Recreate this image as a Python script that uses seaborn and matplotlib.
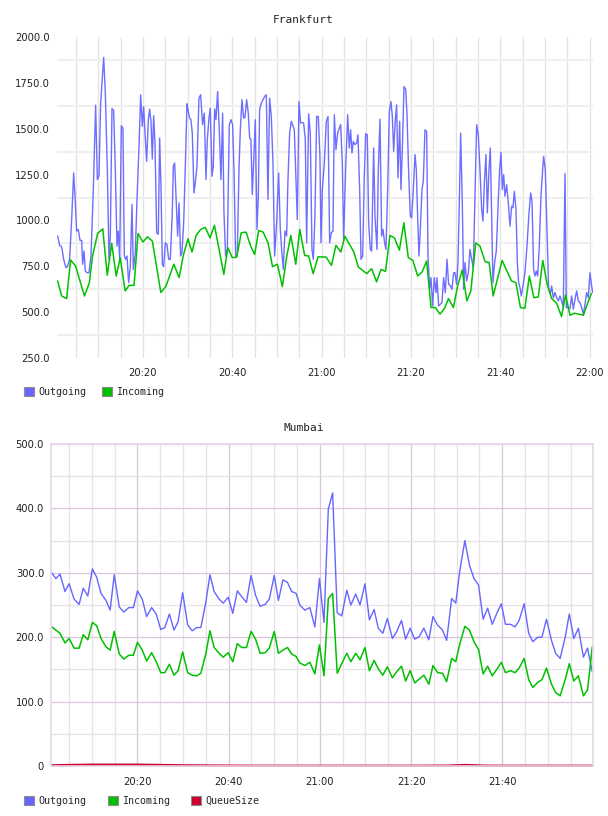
import pandas as pd
import numpy as np
import matplotlib
matplotlib.use("Agg")
import matplotlib.pyplot as plt
from matplotlib.ticker import MultipleLocator, FuncFormatter, FixedLocator
from matplotlib.patches import Patch
import seaborn as sns

# ---- data: minutes after 20:00 and values ----
fra_out_min = [0.90, 1.34, 1.79, 2.24, 2.76, 3.14, 3.58, 4.03, 4.48, 4.78, 5.15, 5.52, 5.90, 6.27, 6.49,
               6.79, 7.09, 7.46, 7.91, 8.36, 8.88, 9.40, 9.78, 10.15, 10.52, 10.82, 11.20, 11.57, 12.02,
               12.39, 12.69, 13.06, 13.43, 13.81, 14.18, 14.48, 14.78, 15.15, 15.52, 15.82, 16.12, 16.42,
               16.79, 17.17, 17.54, 17.84, 18.28, 18.66, 19.11, 19.48, 19.85, 20.15, 20.45, 20.82, 21.20,
               21.49, 21.79, 22.09, 22.39, 22.69, 23.06, 23.43, 23.73, 24.03, 24.33, 24.63, 25.00, 25.37,
               25.75, 26.12, 26.57, 26.79, 27.09, 27.46, 27.76, 28.06, 28.43, 28.73, 29.11, 29.48, 29.85,
               30.07, 30.44, 30.74, 31.04, 31.41, 31.71, 32.08, 32.53, 32.91, 33.35, 33.73, 34.10, 34.40,
               34.77, 35.07, 35.44, 35.74, 36.04, 36.34, 36.71, 37.08, 37.46, 37.83, 38.13, 38.50, 38.88,
               39.32, 39.70, 40.07, 40.37, 40.74, 41.11, 41.49, 41.79, 42.16, 42.53, 42.83, 43.20, 43.58,
               43.88, 44.17, 44.47, 44.77, 45.14, 45.52, 45.82, 46.11, 46.49, 46.86, 47.23, 47.61, 47.98,
               48.35, 48.73, 49.10, 49.47, 49.92, 50.37, 50.74, 51.04, 51.41, 51.79, 52.16, 52.46, 52.83,
               53.20, 53.50, 53.88, 54.25, 54.55, 54.92, 55.29, 55.67, 55.97, 56.34, 56.64, 57.09, 57.46,
               57.83, 58.13, 58.50, 58.88, 59.25, 59.62,
               59.85, 60.15, 60.60, 61.04, 61.42, 61.79, 62.16, 62.54, 62.84, 63.21, 63.58, 63.95, 64.25,
               64.63, 64.92, 65.30, 65.82, 66.19, 66.49, 66.79, 67.09, 67.46, 67.84, 68.13, 68.51, 68.81,
               69.18, 69.55, 69.85, 70.22, 70.52, 70.89, 71.19, 71.64, 71.94, 72.39, 72.69, 73.06, 73.43,
               73.73, 74.10, 74.40, 74.78, 75.15, 75.52, 75.82, 76.12, 76.49, 76.79, 77.09, 77.46, 77.76,
               78.06, 78.43, 78.81, 79.10, 79.48, 79.85, 80.15, 80.52, 80.90, 81.19, 81.49, 81.79, 82.09,
               82.46, 82.76, 83.13, 83.51, 83.81, 84.18, 84.48, 84.85, 85.22, 85.60, 85.82, 86.19, 86.57,
               86.94, 87.31, 87.69, 88.06, 88.43, 88.81, 89.18, 89.55,
               89.85, 90.22, 90.52, 90.82, 91.12, 91.49, 91.79, 92.09, 92.46, 92.84, 93.21, 93.58, 93.95,
               94.33, 94.70, 95.07, 95.45, 95.82, 96.12, 96.42, 96.79, 97.09, 97.46, 97.76, 98.06, 98.36,
               98.73, 99.10, 99.55, 99.85, 100.15, 100.45, 100.75, 101.04, 101.42, 101.79, 102.16, 102.54,
               102.84, 103.13, 103.51, 103.81, 104.10, 104.40, 104.70, 105.07, 105.52, 105.97, 106.42,
               106.79, 107.09, 107.46, 107.76, 108.06, 108.36, 108.73, 109.10, 109.48, 109.70, 110.07,
               110.45, 110.82, 111.19, 111.49, 111.87, 112.24, 112.61, 112.99, 113.36, 113.73, 114.10,
               114.48, 114.78, 115.22, 115.60, 115.97, 116.34, 116.72, 117.09, 117.46, 117.84, 118.21,
               118.58, 118.96, 119.33, 119.70, 120.07, 120.45, 120.67]
fra_out = [915, 864, 857, 788, 742, 751, 788, 1005, 1259, 1132, 942, 951, 891, 891, 761,
           833, 724, 715, 715, 806, 1168, 1628, 1223, 1241, 1639, 1748, 1889, 1694, 1277,
           788, 915, 1609, 1600, 1277, 860, 942, 788, 1516, 1503, 806, 788, 806,
           661, 751, 1087, 733, 824, 1114, 1404, 1685, 1513, 1621, 1476, 1322, 1549,
           1607, 1540, 1335, 1571, 1422, 933, 924, 1449, 1186, 761, 748, 878, 869,
           788, 788, 1050, 1295, 1313, 1096, 915, 1096, 806, 824, 987, 1295, 1636,
           1603, 1558, 1549, 1476, 1150, 1204, 1295, 1667, 1685, 1522, 1585, 1223, 1440,
           1558, 1612, 1241, 1295, 1609, 1549, 1703, 1494, 1223, 1585, 1041, 806, 842,
           1522, 1549, 1522, 1277, 806, 806, 1277, 1494, 1658, 1558, 1562, 1658, 1585,
           1449, 1440, 1141, 1313, 1549, 951, 1132, 1603, 1639, 1658, 1676, 1685, 1114,
           1667, 1567, 1313, 806, 987, 1259, 951, 842, 733, 942, 915, 1223, 1476,
           1540, 1522, 1494, 1223, 1005, 1648, 1531, 1534, 1531, 1440, 878, 1581, 1476,
           842, 788, 1023, 1567, 1567, 1349,
           878, 1168, 1313, 1540, 1567, 878, 933, 942, 1576, 1386, 1476, 1503, 1522,
           1313, 896, 1223, 1576, 1395, 1494, 1368, 1431, 1413, 1422, 1467, 1168, 788,
           806, 1241, 1473, 1467, 987, 842, 833, 1395, 1023, 842, 1277, 1552, 915,
           951, 878, 842, 1168, 1594, 1648, 1567, 1377, 1549, 1630, 1232, 1540, 1168,
           1386, 1730, 1715, 1585, 1259, 1023, 1014, 1168, 1359, 1277, 1023, 806, 951,
           1168, 1214, 1494, 1485, 806, 625, 688, 534, 688, 607, 688, 534, 543,
           552, 688, 607, 788, 652, 643, 625, 715,
           715, 652, 770, 1096, 1476, 1096, 625, 770, 670, 715, 842, 788, 742,
           1132, 1522, 1467, 1277, 1060, 996, 1204, 1359, 1041, 1277, 1395, 1041, 661,
           770, 833, 1114, 1277, 1371, 1168, 1250, 1132, 1195, 1096, 969, 1078,
           1069, 1159, 1060, 770, 661, 634, 588, 643, 715, 860, 1041,
           1150, 1105, 733, 697, 724, 697, 860, 1132, 1277, 1349, 1277,
           951, 625, 597, 643, 579, 607, 579, 561, 588, 561, 525,
           1255, 525, 525, 520, 588, 516, 570, 616, 561, 552, 525,
           489, 543, 607, 579, 715, 643, 607]

fra_in_min = [0.9, 1.8, 2.9, 3.8, 4.9, 6.9, 8.0, 8.7, 9.85, 11.0, 12.0, 13.0, 14.0, 14.9, 16.0, 16.9,
              18.0, 18.9, 20.0, 21.0, 22.1, 24.0, 25.1, 26.9, 28.1, 29.0,
              30.07, 30.97, 31.9, 32.9, 33.95, 35.0, 36.0, 36.9, 38.1, 39.0, 40.0, 41.0, 42.0, 43.1,
              44.1, 45.0, 45.9, 46.9, 48.0, 49.0, 50.1, 51.2, 52.2, 53.1, 54.2, 55.1, 56.2, 57.1,
              58.1, 59.2, 61.0, 62.2, 63.2, 64.3, 65.2, 67.2, 68.2, 70.1, 71.2, 72.3, 73.3, 74.3,
              75.3, 76.3, 77.4, 78.4, 79.4, 80.4, 81.5, 82.5, 83.5, 84.5, 85.45, 86.5, 87.5, 88.4,
              89.5, 90.5, 91.5, 92.5, 93.4, 94.5, 95.45, 96.6, 97.5, 98.4, 100.4, 102.5, 103.5, 104.5,
              105.5, 106.5, 107.5, 108.5, 109.5, 110.5, 111.5, 112.6, 113.7, 114.6, 115.6, 116.6,
              117.6, 118.6, 119.6, 120.4]
fra_in = [670, 588, 574, 784, 752, 588, 661, 806, 929, 954, 701, 875, 697, 797, 616, 646,
          646, 929, 882, 911, 887, 607, 639, 761, 688, 806,
          900, 828, 918, 951, 962, 905, 973, 860, 706, 851, 797, 800, 933, 936,
          860, 815, 945, 936, 878, 748, 761, 639, 806, 918, 761, 951, 809, 806,
          710, 802, 800, 755, 864, 828, 914, 828, 746, 710, 737, 665, 733, 722,
          918, 904, 838, 987, 797, 782, 697, 719, 779, 525, 525, 489, 520, 574,
          525, 650, 730, 561, 616, 878, 860, 775, 770, 588, 782, 670, 661, 525,
          521, 697, 579, 583, 782, 652, 574, 549, 476, 594, 483, 494,
          489, 483, 552, 603]

mum_min = [1.2, 2.1, 3.0, 4.1, 5.0, 6.1, 7.2, 8.1, 9.1, 10.1, 11.05, 12.0, 13.1, 14.0, 14.9, 16.0,
           17.0, 18.1, 19.1, 20.0, 21.05, 22.0, 23.1, 24.1, 25.1, 26.0, 27.0, 28.0, 28.9, 29.9, 31.0,
           32.0, 33.0, 33.9, 35.0, 35.9, 36.8, 37.9, 38.8, 39.9, 40.9, 41.9, 42.85, 43.9, 44.9, 45.9,
           46.9, 48.0, 48.9, 50.0, 50.9, 51.9, 52.9, 53.8, 54.8, 55.6,
           56.7, 57.8, 58.9, 59.9, 60.9, 61.85, 62.8, 63.8, 64.8, 65.9, 66.8, 67.85, 68.8, 69.9,
           70.85, 71.9, 72.8, 73.8, 74.8, 75.9, 76.8, 77.9, 78.8, 79.8, 80.8, 81.8, 82.8, 83.9,
           84.8, 85.8, 86.9, 87.8, 88.9, 89.8, 90.7, 91.8, 92.8, 93.8, 94.8, 95.8, 96.8, 97.8,
           98.8, 99.8, 100.7, 101.8, 102.8, 103.7, 104.8, 105.8, 106.7, 107.8, 108.7, 109.7,
           110.8, 111.7, 112.7, 113.8, 114.7, 115.7, 116.7, 117.8, 118.7, 119.75]
mum_out = [300, 291, 298, 271, 283, 259, 251, 276, 264, 306, 293, 268, 257, 242, 297, 247,
           239, 246, 246, 272, 259, 232, 246, 236, 212, 215, 236, 211, 224, 269, 219,
           210, 215, 215, 255, 297, 271, 259, 253, 262, 237, 272, 263, 254, 296, 265,
           248, 251, 259, 296, 257, 289, 285, 271, 268, 250,
           242, 246, 216, 291, 223, 399, 424, 238, 233, 273, 250, 267, 250, 283,
           227, 243, 214, 206, 229, 198, 208, 226, 197, 214, 197, 201, 214, 196,
           232, 219, 211, 195, 260, 253, 304, 350, 312, 291, 281, 228, 245, 220,
           237, 252, 220, 220, 216, 226, 252, 206, 193, 200, 200, 228,
           195, 175, 167, 200, 236, 198, 214, 169, 183, 146]
mum_in = [216, 211, 206, 191, 198, 183, 183, 204, 196, 223, 218, 198, 185, 180, 209, 174,
          166, 172, 172, 192, 180, 163, 176, 162, 145, 145, 158, 141, 148, 177, 145,
          141, 140, 144, 175, 210, 184, 175, 169, 176, 162, 190, 184, 184, 209, 197,
          175, 176, 183, 209, 175, 180, 184, 174, 170, 160,
          156, 161, 143, 188, 140, 260, 268, 144, 159, 175, 162, 175, 165, 184,
          148, 164, 151, 141, 154, 137, 146, 155, 132, 148, 129, 135, 141, 127,
          156, 145, 144, 131, 167, 162, 190, 217, 211, 193, 181, 143, 155, 140,
          150, 161, 145, 148, 145, 152, 167, 134, 122, 130, 134, 152,
          127, 114, 109, 134, 159, 132, 140, 109, 118, 185]
queue_min = [1.2, 5, 10, 15, 20, 25, 30, 40, 50, 60, 70, 80, 88, 92, 96, 100, 110, 119.75]
queue = [1.0, 1.5, 2.0, 2.0, 2.0, 1.5, 1.0, 0.5, 0.3, 0.3, 0.3, 0.3, 0.5, 1.5, 0.5, 0.3, 0.3, 0.3]

BLUE = "#6666ff"
GREEN = "#00c000"
RED = "#cc0033"

sns.set_style("white")
plt.rcParams["font.family"] = ["DejaVu Sans"]

fig = plt.figure(figsize=(6.08, 8.16), dpi=100)
ax1 = fig.add_axes([57 / 608, 1 - 358 / 816, 536 / 608, 321 / 816])
ax2 = fig.add_axes([51 / 608, 1 - 766 / 816, 542 / 608, 322 / 816])


def hhmm(m, pos=None):
    m = int(round(m))
    return f"{20 + m // 60}:{m % 60:02d}"


# ---- Frankfurt ----
df_out = pd.DataFrame({"t": fra_out_min, "v": fra_out})
df_in = pd.DataFrame({"t": fra_in_min, "v": fra_in})
sns.lineplot(data=df_out, x="t", y="v", ax=ax1, color=BLUE, lw=1.0, alpha=0.95)
sns.lineplot(data=df_in, x="t", y="v", ax=ax1, color=GREEN, lw=1.1)
ax1.set_xlim(0.75, 120.75)
ax1.set_ylim(250, 2000)
ax1.xaxis.set_major_locator(MultipleLocator(20))
ax1.xaxis.set_minor_locator(MultipleLocator(5))
ax1.xaxis.set_major_formatter(FuncFormatter(hhmm))
ax1.yaxis.set_major_locator(MultipleLocator(250))
ax1.yaxis.set_minor_locator(FixedLocator(np.arange(375, 2000, 250)))
ax1.yaxis.set_major_formatter(FuncFormatter(lambda v, p: f"{v:.1f}"))
ax1.grid(False)
ax1.xaxis.grid(True, which="both", color="#e2e2e2", lw=0.9)
ax1.yaxis.grid(True, which="minor", color="#efefef", lw=1.6)
ax1.set_axisbelow(True)
for s in ax1.spines.values():
    s.set_visible(False)

# ---- Mumbai ----
df_mo = pd.DataFrame({"t": mum_min, "v": mum_out})
df_mi = pd.DataFrame({"t": mum_min, "v": mum_in})
df_q = pd.DataFrame({"t": queue_min, "v": queue})
sns.lineplot(data=df_mo, x="t", y="v", ax=ax2, color=BLUE, lw=1.0)
sns.lineplot(data=df_mi, x="t", y="v", ax=ax2, color=GREEN, lw=1.1)
sns.lineplot(data=df_q, x="t", y="v", ax=ax2, color=RED, lw=1.7, clip_on=False)
ax2.set_xlim(1.03, 119.9)
ax2.set_ylim(0, 500)
ax2.xaxis.set_major_locator(MultipleLocator(20))
ax2.xaxis.set_minor_locator(MultipleLocator(5))
ax2.xaxis.set_major_formatter(FuncFormatter(hhmm))
ax2.yaxis.set_major_locator(MultipleLocator(100))
ax2.yaxis.set_minor_locator(MultipleLocator(50))
ax2.yaxis.set_major_formatter(FuncFormatter(lambda v, p: "0" if v == 0 else f"{v:.1f}"))
ax2.grid(False)
ax2.grid(True, which="major", color="#dcc6dc", lw=0.9)
ax2.grid(True, which="minor", color="#e6e2e6", lw=0.9)
ax2.set_axisbelow(True)
for s in ax2.spines.values():
    s.set_visible(True)
    s.set_color("#e8d6ea")
    s.set_linewidth(1.2)

for ax, xpad in ((ax1, 7), (ax2, 8)):
    ax.set_xlabel("")
    ax.set_ylabel("")
    ax.tick_params(axis="both", which="both", length=0, labelsize=7.2, colors="#222222")
    ax.tick_params(axis="x", pad=xpad)
    ax.tick_params(axis="y", pad=5)
    if ax.get_legend():
        ax.get_legend().remove()

mono = "DejaVu Sans Mono"
fig.text(0.499, 1 - 20 / 816, "Frankfurt", ha="center", va="center", family=mono, size=8, color="#222222")
fig.text(0.499, 1 - 428 / 816, "Mumbai", ha="center", va="center", family=mono, size=8, color="#222222")


def legend(labels, colors, y, spacing):
    handles = [Patch(facecolor=c, edgecolor="#8c8c8c", lw=0.8) for c in colors]
    fig.legend(handles, labels, loc="center left", bbox_to_anchor=(24 / 608, y), ncol=len(labels),
               frameon=False, borderpad=0, borderaxespad=0, handlelength=1.0, handleheight=1.0,
               handletextpad=0.45, columnspacing=spacing,
               prop={"family": mono, "size": 7.2})


legend(["Outgoing", "Incoming"], [BLUE, GREEN], 1 - 392 / 816, 1.5)
legend(["Outgoing", "Incoming", "QueueSize"], [BLUE, GREEN, RED], 1 - 801 / 816, 2.1)

fig.savefig("out.png", dpi=100)
